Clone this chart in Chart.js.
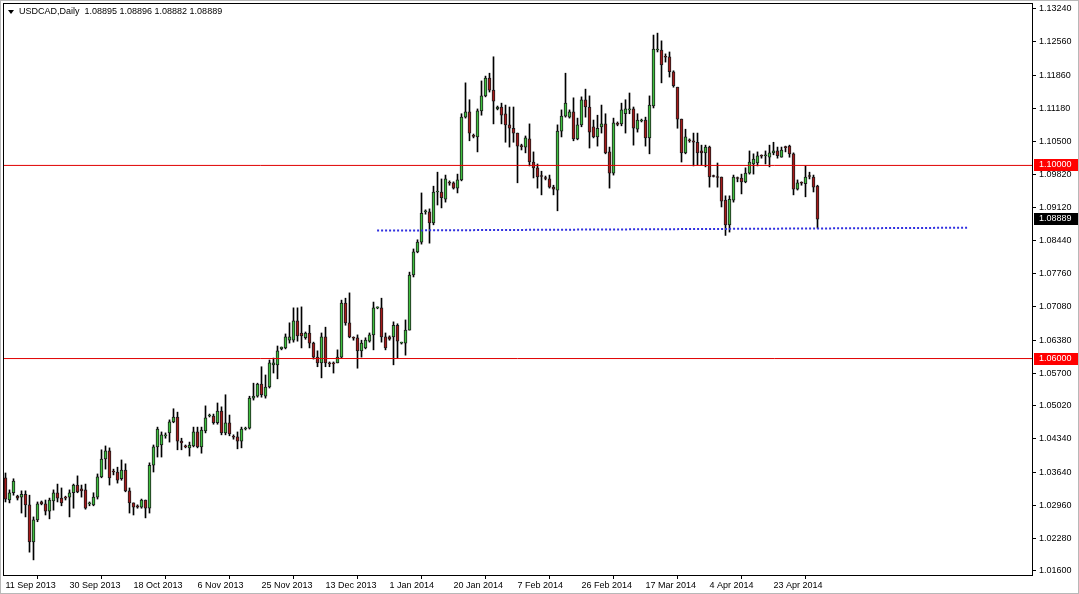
<!DOCTYPE html>
<html><head><meta charset="utf-8">
<script src="https://cdn.jsdelivr.net/npm/chart.js@4.4.1/dist/chart.umd.min.js"></script>
<style>html,body{margin:0;padding:0;background:#fff;}canvas{display:block;}</style>
</head><body>
<canvas id="c" width="1079" height="594"></canvas>
<script>
const symbolTitle = 'USDCAD,Daily';
const lastQuote = ['1.08895', '1.08896', '1.08882', '1.08889'];

const opens = [
1.0353,1.0307,1.0322,1.0315,1.0313,1.0319,1.0297,1.0220,1.0266,1.0303,
1.0299,1.0284,1.0305,1.0322,1.0311,1.0313,1.0313,1.0322,1.0338,1.0330,
1.0328,1.0299,1.0297,1.0313,1.0355,1.0392,1.0409,1.0367,1.0365,1.0351,
1.0369,1.0326,1.0301,1.0295,1.0292,1.0307,1.0290,1.0379,1.0417,1.0421,
1.0440,1.0446,1.0469,1.0479,1.0429,1.0419,1.0415,1.0419,1.0448,1.0417,
1.0450,1.0481,1.0481,1.0467,1.0491,1.0446,1.0467,1.0438,1.0438,1.0429,
1.0454,1.0456,1.0518,1.0522,1.0547,1.0522,1.0541,1.0587,1.0587,1.0620,
1.0622,1.0638,1.0638,1.0678,1.0653,1.0643,1.0653,1.0632,1.0603,1.0591,
1.0645,1.0591,1.0591,1.0591,1.0603,1.0715,1.0674,1.0643,1.0643,1.0616,
1.0622,1.0636,1.0649,1.0705,1.0705,1.0645,1.0645,1.0645,1.0669,1.0632,
1.0632,1.0659,1.0773,1.0821,1.0841,1.0904,1.0904,1.0881,1.0945,1.0945,
1.0930,1.0964,1.0964,1.0953,1.0970,1.1100,1.1111,1.1061,1.1059,1.1113,
1.1144,1.1181,1.1156,1.1117,1.1121,1.1107,1.1084,1.1077,1.1067,1.1040,
1.1038,1.1055,1.1007,1.0995,1.0978,1.0974,1.0972,1.0955,1.0949,1.1071,
1.1102,1.1100,1.1111,1.1055,1.1084,1.1136,1.1121,1.1080,1.1059,1.1080,
1.1086,1.1028,1.0984,1.1086,1.1086,1.1107,1.1115,1.1117,1.1075,1.1092,
1.1094,1.1057,1.1123,1.1239,1.1239,1.1225,1.1225,1.1194,1.1162,1.1096,
1.1026,1.1053,1.1051,1.1048,1.1030,1.1026,1.1038,1.0978,1.0976,1.0976,
1.0928,1.0877,1.0928,1.0974,1.0974,1.0966,1.0984,1.1003,1.1005,1.1020,
1.1020,1.1017,1.1026,1.1030,1.1017,1.1038,1.1040,1.1024,1.0951,1.0964,
1.0962,1.0978,1.0976,1.0957];

const highs = [
1.0363,1.0328,1.0351,1.0317,1.0326,1.0326,1.0317,1.0272,1.0303,1.0305,
1.0307,1.0311,1.0328,1.0340,1.0332,1.0315,1.0328,1.0340,1.0357,1.0338,
1.0340,1.0303,1.0322,1.0361,1.0411,1.0419,1.0415,1.0371,1.0375,1.0390,
1.0382,1.0332,1.0301,1.0297,1.0309,1.0307,1.0384,1.0421,1.0458,1.0448,
1.0446,1.0473,1.0496,1.0489,1.0435,1.0421,1.0427,1.0458,1.0458,1.0458,
1.0502,1.0485,1.0485,1.0508,1.0500,1.0525,1.0483,1.0442,1.0448,1.0458,
1.0458,1.0522,1.0549,1.0549,1.0583,1.0566,1.0597,1.0601,1.0626,1.0624,
1.0651,1.0674,1.0705,1.0705,1.0707,1.0655,1.0669,1.0634,1.0616,1.0653,
1.0665,1.0593,1.0593,1.0618,1.0721,1.0725,1.0736,1.0645,1.0649,1.0638,
1.0643,1.0653,1.0717,1.0707,1.0725,1.0653,1.0647,1.0676,1.0672,1.0634,
1.0680,1.0779,1.0827,1.0846,1.0943,1.0908,1.0910,1.0957,1.0986,1.0972,
1.0980,1.0968,1.0966,1.0982,1.1107,1.1171,1.1136,1.1065,1.1117,1.1175,
1.1185,1.1191,1.1225,1.1123,1.1129,1.1125,1.1121,1.1121,1.1067,1.1044,
1.1061,1.1086,1.1028,1.1003,1.0988,1.0978,1.0980,1.0959,1.1084,1.1115,
1.1191,1.1115,1.1140,1.1098,1.1142,1.1158,1.1144,1.1094,1.1104,1.1125,
1.1107,1.1038,1.1098,1.1090,1.1129,1.1136,1.1150,1.1121,1.1107,1.1096,
1.1100,1.1144,1.1270,1.1274,1.1258,1.1231,1.1235,1.1196,1.1162,1.1096,
1.1075,1.1055,1.1067,1.1067,1.1042,1.1042,1.1040,1.0980,1.1005,1.0976,
1.0937,1.0937,1.0980,1.0976,1.0982,1.0995,1.1030,1.1024,1.1028,1.1022,
1.1030,1.1042,1.1048,1.1038,1.1038,1.1040,1.1042,1.1026,1.0970,1.0966,
1.0999,1.0986,1.0980,1.0959];

const lows = [
1.0303,1.0301,1.0317,1.0307,1.0280,1.0272,1.0199,1.0183,1.0262,1.0297,
1.0276,1.0268,1.0286,1.0303,1.0295,1.0307,1.0272,1.0290,1.0322,1.0313,
1.0288,1.0295,1.0295,1.0309,1.0353,1.0371,1.0338,1.0359,1.0342,1.0348,
1.0324,1.0280,1.0276,1.0290,1.0290,1.0270,1.0280,1.0365,1.0396,1.0396,
1.0435,1.0427,1.0467,1.0411,1.0411,1.0415,1.0398,1.0417,1.0415,1.0404,
1.0446,1.0479,1.0464,1.0464,1.0442,1.0442,1.0440,1.0433,1.0413,1.0415,
1.0452,1.0454,1.0514,1.0520,1.0520,1.0518,1.0539,1.0570,1.0558,1.0618,
1.0620,1.0632,1.0634,1.0636,1.0622,1.0640,1.0622,1.0599,1.0583,1.0560,
1.0583,1.0583,1.0570,1.0591,1.0601,1.0669,1.0643,1.0638,1.0580,1.0603,
1.0620,1.0634,1.0618,1.0703,1.0634,1.0618,1.0638,1.0587,1.0601,1.0630,
1.0607,1.0659,1.0769,1.0819,1.0837,1.0899,1.0839,1.0877,1.0918,1.0912,
1.0924,1.0959,1.0951,1.0943,1.0968,1.1098,1.1051,1.1057,1.1028,1.1104,
1.1142,1.1152,1.1086,1.1115,1.1086,1.1048,1.1038,1.1048,1.0964,1.1032,
1.1026,1.0999,1.0974,1.0953,1.0939,1.0970,1.0953,1.0939,1.0906,1.1059,
1.1100,1.1098,1.1051,1.1053,1.1080,1.1100,1.1036,1.1057,1.1040,1.1067,
1.1024,1.0953,1.0980,1.1082,1.1082,1.1067,1.1107,1.1042,1.1069,1.1090,
1.1040,1.1024,1.1119,1.1235,1.1171,1.1214,1.1183,1.1162,1.1077,1.1007,
1.1024,1.1048,1.0999,1.1001,1.1001,1.0997,1.0955,1.0976,1.0955,1.0914,
1.0855,1.0862,1.0924,1.0966,1.0941,1.0964,1.0982,1.0982,1.0999,1.1015,
1.1003,1.0997,1.1022,1.1015,1.1017,1.1028,1.1017,1.0939,1.0949,1.0959,
1.0935,1.0972,1.0945,1.0870];

const closes = [
1.0309,1.0322,1.0346,1.0311,1.0319,1.0297,1.0220,1.0266,1.0299,1.0299,
1.0284,1.0307,1.0322,1.0311,1.0301,1.0311,1.0322,1.0338,1.0324,1.0326,
1.0290,1.0300,1.0313,1.0355,1.0392,1.0409,1.0353,1.0365,1.0348,1.0369,
1.0326,1.0301,1.0292,1.0292,1.0307,1.0290,1.0379,1.0417,1.0454,1.0442,
1.0442,1.0469,1.0479,1.0429,1.0425,1.0417,1.0421,1.0448,1.0417,1.0452,
1.0477,1.0483,1.0467,1.0491,1.0446,1.0467,1.0444,1.0437,1.0429,1.0454,
1.0456,1.0518,1.0522,1.0547,1.0525,1.0541,1.0591,1.0591,1.0616,1.0624,
1.0645,1.0645,1.0678,1.0647,1.0647,1.0653,1.0632,1.0603,1.0591,1.0645,
1.0591,1.0589,1.0589,1.0603,1.0715,1.0674,1.0645,1.0642,1.0616,1.0632,
1.0638,1.0649,1.0705,1.0706,1.0645,1.0622,1.0640,1.0669,1.0636,1.0633,
1.0659,1.0773,1.0821,1.0841,1.0901,1.0906,1.0881,1.0945,1.0947,1.0933,
1.0972,1.0963,1.0953,1.0970,1.1100,1.1111,1.1067,1.1060,1.1113,1.1144,
1.1181,1.1156,1.1133,1.1121,1.1104,1.1084,1.1077,1.1067,1.1040,1.1039,
1.1057,1.1007,1.0995,1.0976,1.0977,1.0973,1.0955,1.0951,1.1071,1.1102,
1.1129,1.1111,1.1055,1.1084,1.1136,1.1121,1.1069,1.1059,1.1077,1.1086,
1.1026,1.0984,1.1088,1.1085,1.1115,1.1117,1.1117,1.1077,1.1094,1.1094,
1.1057,1.1125,1.1241,1.1240,1.1208,1.1224,1.1194,1.1165,1.1096,1.1026,
1.1059,1.1051,1.1048,1.1026,1.1026,1.1038,1.0976,1.0977,1.0975,1.0926,
1.0877,1.0930,1.0976,1.0973,1.0966,1.0984,1.1007,1.1013,1.1020,1.1019,
1.1021,1.1026,1.1030,1.1020,1.1032,1.1037,1.1024,1.0951,1.0964,1.0963,
1.0976,1.0977,1.0955,1.08889];

const xTickIndex = [0, 16, 32, 48, 64, 80, 96, 112, 128, 144, 160, 176, 192];
const xTickLabels = ['11 Sep 2013', '30 Sep 2013', '18 Oct 2013', '6 Nov 2013', '25 Nov 2013',
  '13 Dec 2013', '1 Jan 2014', '20 Jan 2014', '7 Feb 2014', '26 Feb 2014', '17 Mar 2014',
  '4 Apr 2014', '23 Apr 2014'];
const yTickValues = [1.13240, 1.12560, 1.11860, 1.11180, 1.10500, 1.09820, 1.09120, 1.08440,
  1.07760, 1.07080, 1.06380, 1.05700, 1.05020, 1.04340, 1.03640, 1.02960, 1.02280, 1.01600];
const hLevels = [1.10000, 1.06000];
const trendX = [92.9, 240.6];
const trendY = [1.0865, 1.0871];

// view window
const xMin = -0.625, xMax = 256.625;
const yMin = 1.01517, yMax = 1.13364;

const BULL = '#3fbf3f', BEAR = '#a51a1a', EDGE = '#1c1c1c', LEVEL = '#e00000', TREND = '#2f2fe0';
const FONT = 'Liberation Sans, Arial, sans-serif';

Chart.defaults.font.family = FONT;
Chart.defaults.font.size = 9;
Chart.defaults.color = '#000';

const idx = opens.map((_, i) => i);
const bodyData = idx.map(i => ({x: i, y: [opens[i], closes[i]]}));
const wickData = idx.map(i => ({x: i, y: [lows[i], highs[i]]}));

const decor = {
  id: 'decor',
  beforeDraw(chart) {
    const {ctx, width, height} = chart;
    ctx.save();
    ctx.fillStyle = '#fff';
    ctx.fillRect(0, 0, width, height);
    ctx.restore();
  },
  afterDraw(chart) {
    const {ctx, chartArea: a, scales, width, height} = chart;
    const y = scales.y;
    ctx.save();
    ctx.strokeStyle = '#000';
    ctx.lineWidth = 1;
    ctx.strokeRect(a.left + 0.5, a.top + 0.5, a.right - a.left, a.bottom - a.top);
    ctx.strokeStyle = '#b8b8b8';
    ctx.strokeRect(0.5, 0.5, width - 1, height - 1);
    // header
    ctx.fillStyle = '#000';
    ctx.beginPath();
    ctx.moveTo(8, 10); ctx.lineTo(14, 10); ctx.lineTo(11, 14); ctx.closePath();
    ctx.fill();
    ctx.font = '9px ' + FONT;
    ctx.textBaseline = 'middle';
    ctx.textAlign = 'left';
    ctx.fillText(symbolTitle + '  ' + lastQuote.join(' '), 19, 12);
    // price tags
    const tag = (v, bg) => {
      const py = Math.round(y.getPixelForValue(v));
      ctx.fillStyle = bg;
      ctx.fillRect(a.right + 2, py - 6, 44, 12);
      ctx.fillStyle = '#fff';
      ctx.fillText(v.toFixed(5), a.right + 7, py);
    };
    hLevels.forEach(v => tag(v, '#ff0000'));
    tag(closes[closes.length - 1], '#000');
    ctx.restore();
  }
};

new Chart(document.getElementById('c'), {
  type: 'bar',
  data: {
    datasets: [
      {type: 'line', data: trendX.map((x, k) => ({x, y: trendY[k]})), borderColor: TREND,
        borderWidth: 2, borderDash: [2, 2], pointRadius: 0, order: 0},
      ...hLevels.map(v => ({type: 'line', data: [{x: xMin, y: v}, {x: xMax, y: v}],
        borderColor: LEVEL, borderWidth: 1, pointRadius: 0, order: 1})),
      {type: 'bar', data: bodyData, grouped: false, maxBarThickness: 3, barPercentage: 1,
        categoryPercentage: 1, minBarLength: 1, borderWidth: 1, borderColor: EDGE,
        borderSkipped: false,
        backgroundColor: c => closes[c.dataIndex] >= opens[c.dataIndex] ? BULL : BEAR, order: 2},
      {type: 'bar', data: wickData, grouped: false, maxBarThickness: 1, barPercentage: 1,
        categoryPercentage: 1, backgroundColor: '#000', borderWidth: 0, order: 3}
    ]
  },
  options: {
    responsive: false,
    devicePixelRatio: 1,
    animation: false,
    events: [],
    layout: {padding: {left: 3, top: 3, right: 0, bottom: 0}},
    plugins: {legend: {display: false}, tooltip: {enabled: false}, title: {display: false}},
    scales: {
      x: {
        type: 'linear', min: xMin, max: xMax, offset: false,
        grid: {display: true, drawOnChartArea: false, drawTicks: true, tickLength: 4, color: '#000'},
        border: {display: false},
        afterBuildTicks: s => { s.ticks = xTickIndex.map(v => ({value: v})); },
        afterFit: s => { s.height = 19; s.paddingLeft = 0; s.paddingRight = 0; },
        ticks: {autoSkip: false, maxRotation: 0, minRotation: 0, align: 'start', padding: 1,
          callback: v => xTickLabels[xTickIndex.indexOf(v)]}
      },
      y: {
        type: 'linear', position: 'right', min: yMin, max: yMax,
        grid: {display: true, drawOnChartArea: false, drawTicks: true, tickLength: 4, color: '#000'},
        border: {display: false},
        afterBuildTicks: s => { s.ticks = yTickValues.map(v => ({value: v})); },
        afterFit: s => { s.width = 47; s.paddingTop = 0; s.paddingBottom = 0; },
        ticks: {autoSkip: false, padding: 3, callback: v => Number(v).toFixed(5)}
      }
    }
  },
  plugins: [decor]
});
</script>
</body></html>
